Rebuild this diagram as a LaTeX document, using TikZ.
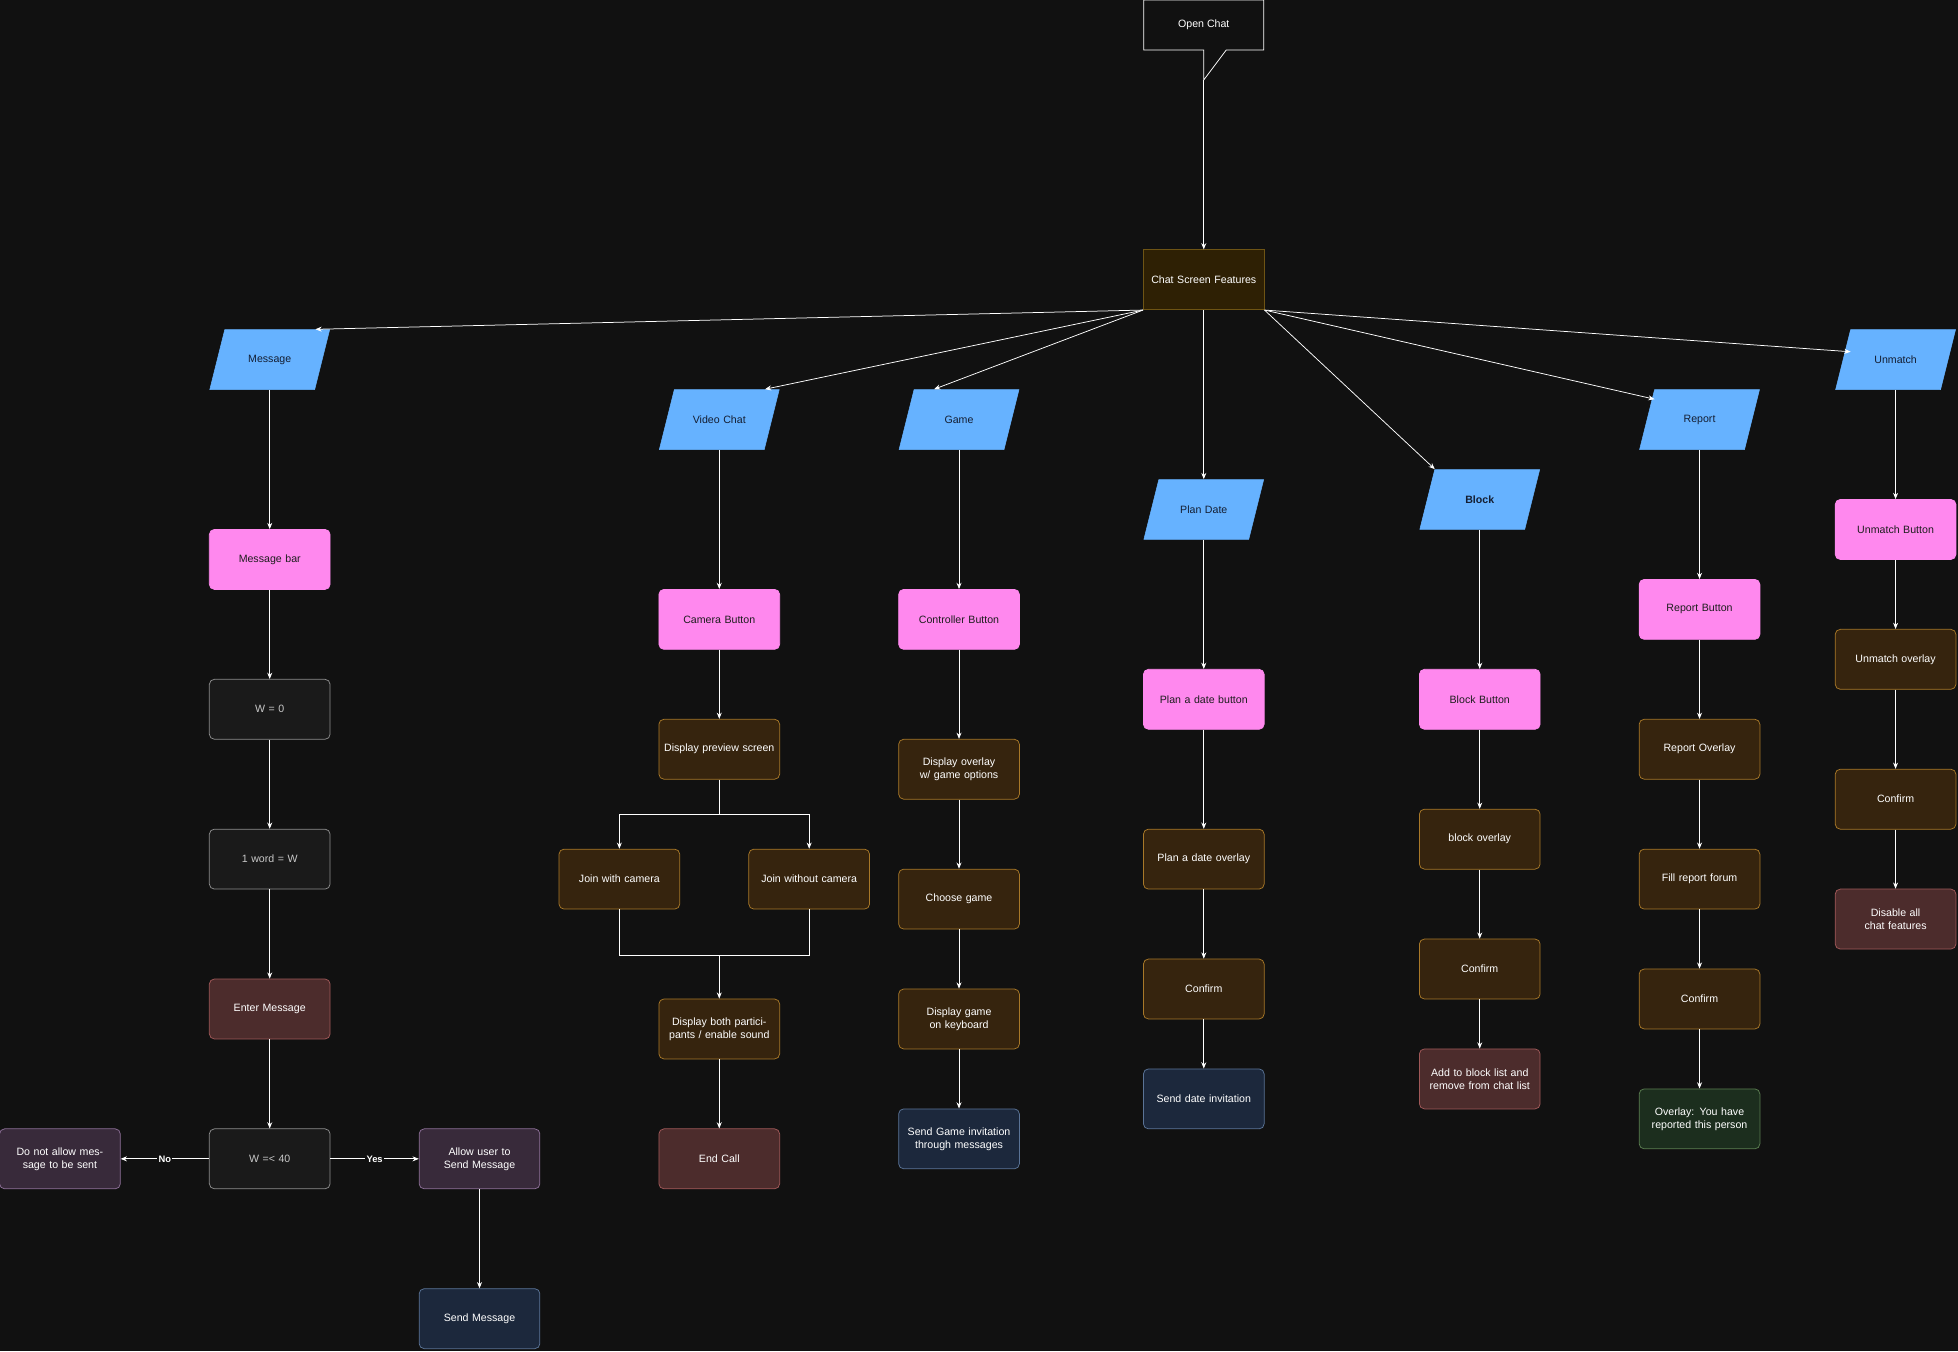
\documentclass[tikz,border=0pt]{standalone}
\usepackage{fontspec}
\setmainfont{Liberation Sans}
\usetikzlibrary{arrows.meta}
\definecolor{bg}{HTML}{111111}
\definecolor{pblue}{HTML}{66B2FF}
\definecolor{pink}{HTML}{FF88EE}
\tikzset{
 base/.style={rounded corners=4pt,minimum width=96pt,minimum height=48pt,align=center,text width=90pt,font=\fontsize{8.5}{10.5}\selectfont,line width=0.6pt},
 brown/.style={base,fill={rgb,255:red,54;green,36;blue,14},draw={rgb,255:red,168;green,120;blue,40},text=white},
 pk/.style={base,fill=pink,draw=pink,text={rgb,255:red,30;green,30;blue,30}},
 gr/.style={base,fill={rgb,255:red,26;green,26;blue,26},draw={rgb,255:red,140;green,140;blue,140},text={rgb,255:red,200;green,200;blue,200}},
 rd/.style={base,fill={rgb,255:red,76;green,44;blue,44},draw={rgb,255:red,160;green,88;blue,88},text=white},
 pu/.style={base,fill={rgb,255:red,56;green,42;blue,58},draw={rgb,255:red,140;green,110;blue,150},text=white},
 nv/.style={base,fill={rgb,255:red,28;green,40;blue,60},draw={rgb,255:red,90;green,115;blue,150},text=white},
 gn/.style={base,fill={rgb,255:red,28;green,46;blue,30},draw={rgb,255:red,90;green,125;blue,80},text=white},
 para/.style={fill=pblue,draw=pblue},
 ptext/.style={base,rounded corners=0pt,draw=none,text={rgb,255:red,20;green,30;blue,50}},
 ar/.style={draw=white,line width=0.6pt,-{Stealth[length=5pt,width=4pt]}},
 ln/.style={draw=white,line width=0.6pt},
 lab/.style={fill=bg,text=white,font=\bfseries\fontsize{7.5}{9}\selectfont,inner sep=1pt}
}
\newcommand\para[5][]{\filldraw[para] ({#2-36},{#3-24}) -- ({#2+48},{#3-24}) -- ({#2+36},{#3+24}) -- ({#2-48},{#3+24}) -- cycle;
 \node[ptext,#1] (#4) at (#2,#3) {#5};}
\begin{document}
\begin{tikzpicture}[x=1pt,y=-1pt]
\fill[bg] (0,0) rectangle (1568,1082);
\useasboundingbox (0,0) rectangle (1568,1082);
% open chat callout
\draw[white,line width=0.6pt] (916,0)--(1012,0)--(1012,40)--(982,40)--(964,64)--(964,40)--(916,40)--cycle;
\node[text=white,font=\fontsize{8.5}{10.5}\selectfont] (oc) at (964,20) {Open Chat};
\coordinate (octip) at (964,64);
\node[base,rounded corners=0pt,fill={rgb,255:red,46;green,32;blue,4},draw={rgb,255:red,110;green,84;blue,20},text=white] (csf) at (964,224) {Chat Screen Features};
\draw[ar] (octip) -- (csf);
% parallelograms
\para{216}{288}{msg}{Message}
\para{576}{336}{vc}{Video Chat}
\para{768}{336}{gm}{Game}
\para{964}{408}{pd}{Plan Date}
\para[font=\bfseries\fontsize{8.5}{10.5}\selectfont]{1185}{400}{bl}{Block}
\para{1361}{336}{rp}{Report}
\para{1518}{288}{um}{Unmatch}
\draw[ar] (csf.south west) -- ([xshift=-12]msg.north east);
\draw[ar] (csf.south west) -- ([xshift=-12]vc.north east);
\draw[ar] (csf.south west) -- ([xshift=-20]gm.north);
\draw[ar] (csf) -- (pd);
\draw[ar] (csf.south east) -- ([xshift=-36]bl.north);
\draw[ar] (csf.south east) -- ([xshift=-36,yshift=-8]rp.north);
\draw[ar] (csf.south east) -- ([xshift=-36,yshift=-18]um.north);
% message column
\node[pk] (mb) at (216,448) {Message bar};
\node[gr] (w0) at (216,568) {W = 0};
\node[gr] (w1) at (216,688) {1 word = W};
\node[rd] (em) at (216,808) {Enter Message};
\node[gr] (w40) at (216,928) {W =< 40};
\node[pu] (dna) at (48,928) {Do not allow message to be sent};
\node[pu] (aus) at (384,928) {Allow user to Send Message};
\node[nv] (sm) at (384,1056) {Send Message};
\draw[ar] (msg)--(mb); \draw[ar] (mb)--(w0); \draw[ar] (w0)--(w1); \draw[ar] (w1)--(em); \draw[ar] (em)--(w40);
\draw[ar] (w40) -- node[lab]{No} (dna);
\draw[ar] (w40) -- node[lab]{Yes} (aus);
\draw[ar] (aus)--(sm);
% video chat
\node[pk] (cb) at (576,496) {Camera Button};
\node[brown] (dp) at (576,600) {Display preview screen};
\node[brown] (jw) at (496,704) {Join with camera};
\node[brown] (jo) at (648,704) {Join without camera};
\node[brown] (db) at (576,824) {Display both participants / enable sound};
\node[rd] (ec) at (576,928) {End Call};
\coordinate (sp) at (576,652); \coordinate (mg) at (576,765);
\draw[ar] (vc)--(cb); \draw[ar] (cb)--(dp);
\draw[ln] (dp)--(sp);
\draw[ar] (sp) -| (jw); \draw[ar] (sp) -| (jo);
\draw[ln] (jw) |- (mg); \draw[ln] (jo) |- (mg);
\draw[ar] (mg)--(db); \draw[ar] (db)--(ec);
% game
\node[pk] (ctl) at (768,496) {Controller Button};
\node[brown] (dov) at (768,616) {Display overlay w/ game options};
\node[brown] (cg) at (768,720) {Choose game};
\node[brown] (dgk) at (768,816) {Display game on keyboard};
\node[nv] (sgi) at (768,912) {Send Game invitation through messages};
\draw[ar] (gm)--(ctl); \draw[ar] (ctl)--(dov); \draw[ar] (dov)--(cg); \draw[ar] (cg)--(dgk); \draw[ar] (dgk)--(sgi);
% plan date
\node[pk] (pdb) at (964,560) {Plan a date button};
\node[brown] (pdo) at (964,688) {Plan a date overlay};
\node[brown] (pdc) at (964,792) {Confirm};
\node[nv] (sdi) at (964,880) {Send date invitation};
\draw[ar] (pd)--(pdb); \draw[ar] (pdb)--(pdo); \draw[ar] (pdo)--(pdc); \draw[ar] (pdc)--(sdi);
% block
\node[pk] (bb) at (1185,560) {Block Button};
\node[brown] (bo) at (1185,672) {block overlay};
\node[brown] (bc) at (1185,776) {Confirm};
\node[rd] (ab) at (1185,864) {Add to block list and remove from chat list};
\draw[ar] (bl)--(bb); \draw[ar] (bb)--(bo); \draw[ar] (bo)--(bc); \draw[ar] (bc)--(ab);
% report
\node[pk] (rb) at (1361,488) {Report Button};
\node[brown] (ro) at (1361,600) {Report Overlay};
\node[brown] (rf) at (1361,704) {Fill report forum};
\node[brown] (rc) at (1361,800) {Confirm};
\node[gn] (ov) at (1361,896) {Overlay: You have reported this person};
\draw[ar] (rp)--(rb); \draw[ar] (rb)--(ro); \draw[ar] (ro)--(rf); \draw[ar] (rf)--(rc); \draw[ar] (rc)--(ov);
% unmatch
\node[pk] (ub) at (1518,424) {Unmatch Button};
\node[brown] (uo) at (1518,528) {Unmatch overlay};
\node[brown] (uc) at (1518,640) {Confirm};
\node[rd] (ud) at (1518,736) {Disable all chat features};
\draw[ar] (um)--(ub); \draw[ar] (ub)--(uo); \draw[ar] (uo)--(uc); \draw[ar] (uc)--(ud);
\end{tikzpicture}
\end{document}
